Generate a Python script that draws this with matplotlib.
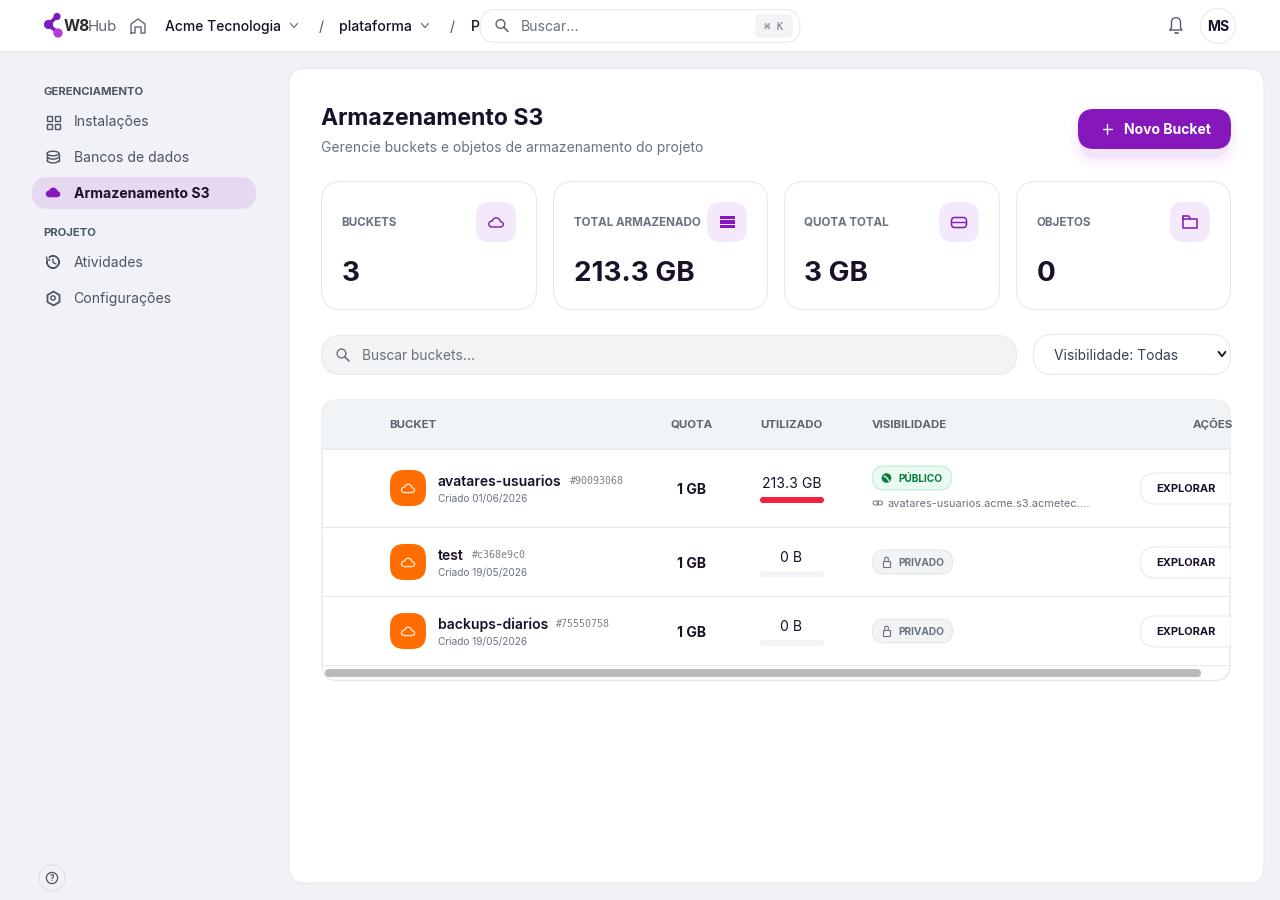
import matplotlib
matplotlib.use('Agg')
import matplotlib.pyplot as plt
from matplotlib.patches import FancyBboxPatch, Circle, PathPatch, Rectangle, Wedge, Ellipse
from matplotlib.path import Path

plt.rcParams['font.family'] = ['Inter', 'DejaVu Sans']

# page content
menu_top = ['Instalações', 'Bancos de dados', 'Armazenamento S3']
menu_bottom = ['Atividades', 'Configurações']
card_labels = ['BUCKETS', 'TOTAL ARMAZENADO', 'QUOTA TOTAL', 'OBJETOS']
card_values = ['3', '213.3 GB', '3 GB', '0']
bucket_names = ['avatares-usuarios', 'test', 'backups-diarios']
bucket_hashes = ['#90093068', '#c368e9c0', '#75550758']
bucket_dates = ['Criado 01/06/2026', 'Criado 19/05/2026', 'Criado 19/05/2026']
bucket_quota = ['1 GB', '1 GB', '1 GB']
bucket_used = ['213.3 GB', '0 B', '0 B']
bucket_used_frac = [1.0, 0.0, 0.0]
bucket_vis = ['PÚBLICO', 'PRIVADO', 'PRIVADO']

DARK = '#1a1028'
GREY = '#6b7280'
SLATE = '#4b5563'
LINE = '#e6e8ec'
PURPLE = '#8517bb'
ORANGE = '#ff6d00'

fig = plt.figure(figsize=(12.8, 9), dpi=100, facecolor='#f1f1f8')
ax = fig.add_axes([0, 0, 1, 1])
ax.set_xlim(0, 1280)
ax.set_ylim(900, 0)
ax.axis('off')


def box(x0, y0, x1, y1, r, fc='white', ec='none', lw=.75, z=2, alpha=None):
    p = FancyBboxPatch((x0 + r, y0 + r), x1 - x0 - 2 * r, y1 - y0 - 2 * r,
                       boxstyle='round,pad=%f,rounding_size=%f' % (r, r),
                       fc=fc, ec=ec, lw=lw, zorder=z, alpha=alpha)
    ax.add_patch(p)
    return p


def txt(x, y, s, size, color=DARK, weight='normal', ha='left', z=6, **kw):
    # y is the middle of the capitals, size in pixels
    return ax.text(x, y + 0.36 * size, s, fontsize=size * 0.72, color=color,
                   fontweight=weight, ha=ha, va='baseline', zorder=z, **kw)


def line(xs, ys, color=SLATE, lw=1.0, z=5):
    return ax.plot(xs, ys, color=color, lw=lw, zorder=z, solid_capstyle='round',
                   solid_joinstyle='round')[0]


def cloud(cx, cy, s, color, fill=False, lw=1.0):
    pts = [(-.55, .6), (.55, .6), (1.1, .6), (1.1, -.1), (.6, -.1),
           (.45, -.75), (-.3, -.8), (-.5, -.2), (-1.1, -.2), (-1.1, .6), (-.55, .6)]
    codes = [Path.MOVETO, Path.LINETO] + [Path.CURVE4] * 9
    verts = [(cx + a * s, cy + b * s) for a, b in pts]
    ax.add_patch(PathPatch(Path(verts, codes), fc=color if fill else 'none', ec=color,
                           lw=lw, zorder=5))


def magnifier(cx, cy, color=GREY, z=5):
    ax.add_patch(Circle((cx - 1.5, cy - 1.5), 4.4, fc='none', ec=color, lw=1.0, zorder=z))
    line([cx + 1.8, cx + 6], [cy + 1.8, cy + 6], color, 1.2, z)


def chevron(cx, cy, color=GREY, w=3.5, h=2, lw=.9):
    line([cx - w, cx, cx + w], [cy - h, cy + h, cy - h], color, lw)


# top bar
ax.add_patch(Rectangle((0, 0), 1280, 51, fc='white', ec='none', zorder=1))
line([0, 1280], [51, 51], '#e6e7ec', .75, 1)

# logo
line([57, 48.5, 58], [16.5, 24.5, 33], '#7c1bc0', 2.6)
for lx, ly, lr, lc in [(57, 16.5, 3.6, '#7c1bc0'), (48.5, 24.5, 4.6, '#7c1bc0'), (58, 33, 4.6, '#b43be0')]:
    ax.add_patch(Circle((lx, ly), lr, fc=lc, ec='none', zorder=5))
txt(63.5, 25.5, 'W8', 15.5, '#2b2b33', 'bold')
txt(87.5, 25.5, 'Hub', 15, '#5f646d')

# home icon
line([131, 131, 138, 145, 145, 141, 141, 135, 135, 131],
     [33, 24, 19, 24, 33, 33, 27, 27, 33, 33], GREY, 1.1)

# breadcrumb, search box sits on top of it
txt(165, 26, 'Acme Tecnologia', 13.9, DARK, 500)
chevron(294, 25.5)
txt(319, 26, '/', 14, SLATE)
txt(339, 26, 'plataforma', 14.1, DARK, 500)
chevron(425, 25.5)
txt(450, 26, '/', 14, SLATE)
txt(471, 26, 'P', 14, DARK, 500)
box(480, 9.5, 800, 42.5, 16, 'white', '#e6e8ec', .75, 7)
magnifier(502, 25.5, '#5f646d', 8)
txt(521, 26, 'Buscar...', 14, GREY, z=8)
box(756, 15, 792, 37, 4, '#f1f3f5', '#eceef0', .75, 8)
txt(774, 26, '⌘ K', 10.5, GREY, ha='center', z=9, family=['DejaVu Sans Mono', 'DejaVu Sans'])

# bell and avatar
line([1170, 1171.5, 1171.5, 1173, 1176, 1179, 1180.5, 1180.5, 1182, 1170],
     [30, 27.5, 21, 18.5, 17.5, 18.5, 21, 27.5, 30, 30], SLATE, .95)
line([1174.5, 1177.5], [33, 33], SLATE, 1.2)
ax.add_patch(Circle((1218, 26), 17.5, fc='white', ec='#e6e8ec', lw=.75, zorder=3))
txt(1218, 26, 'MS', 14, DARK, 'bold', ha='center')

# sidebar
txt(44, 91, 'GERENCIAMENTO', 11.3, SLATE, 'bold')
box(32, 177, 256, 209, 16, '#e6d8f0', z=2)
for i, name in enumerate(menu_top):
    y = 121 + 36 * i
    active = i == 2
    txt(74, y, name, 14, DARK if active else SLATE, 'bold' if active else 'normal')
for sx, sy in [(47, 116), (55, 116), (47, 123.5), (55, 123.5)]:
    ax.add_patch(Rectangle((sx, sy), 5, 5, fc='none', ec=SLATE, lw=1.0, zorder=5))
# database icon
ax.add_patch(Ellipse((53, 153.5), 12, 4.5, fc='none', ec=SLATE, lw=1.0, zorder=5))
line([47, 47], [153.5, 161], SLATE)
line([59, 59], [153.5, 161], SLATE)
line([47, 50, 53, 56, 59], [161, 162.6, 163, 162.6, 161], SLATE)
line([47, 50, 53, 56, 59], [157.2, 158.8, 159.2, 158.8, 157.2], SLATE)
cloud(53, 192.5, 6.8, PURPLE, fill=True)

txt(43.5, 232, 'PROJETO', 11.3, SLATE, 'bold')
for i, name in enumerate(menu_bottom):
    txt(74 - i * .8, 262 + 36 * i, name, 14, SLATE)
# clock with arrow
ax.add_patch(Wedge((53, 262), 6, -130, 190, width=0.01, fc='none', ec=SLATE, lw=1.0, zorder=5))
line([53, 53, 56], [259, 262.5, 264], SLATE)
line([46.5, 47, 50], [257, 260, 260], SLATE)
# gear
ax.add_patch(Circle((53, 298), 2.2, fc='none', ec=SLATE, lw=1.0, zorder=5))
ax.plot([53], [298], marker='h', ms=10, mfc='none', mec=SLATE, mew=1.3, zorder=5)
# help
ax.add_patch(Circle((52, 878), 13, fc='#f1f1f8', ec='#dfe1e6', lw=.75, zorder=2))
ax.add_patch(Circle((52, 878), 5.6, fc='none', ec=SLATE, lw=.9, zorder=5))
txt(52, 878, '?', 8, SLATE, 'bold', ha='center')

# main panel
box(289, 68.5, 1264, 883, 16, 'white', LINE, .75, 1)
txt(321, 117, 'Armazenamento S3', 23, DARK, 'bold')
txt(321, 147, 'Gerencie buckets e objetos de armazenamento do projeto', 13.85, GREY)

# button with soft shadow
for grow, a in [(12, .012), (9, .018), (6, .025), (3, .035), (1, .05)]:
    box(1078 - grow + 3, 109 + 8 - grow, 1231 + grow - 3, 149 + 8 + grow, 16 + grow, '#b04fe0', z=2, alpha=a)
box(1078, 109, 1231, 149, 16, PURPLE, z=3)
line([1102.5, 1112], [129, 129], 'white', 1.0)
line([1107.2, 1107.2], [124.2, 133.8], 'white', 1.0)
txt(1124, 129, 'Novo Bucket', 14, 'white', 'bold')

# stat cards
card_x = [(321, 537), (553, 768), (784, 1000), (1016, 1231)]
icon_x = [476, 707, 939, 1170]
for i, label in enumerate(card_labels):
    x0, x1 = card_x[i]
    box(x0 + .5, 181.5, x1 - .5, 309.5, 20, 'white', LINE, .75, 2)
    # the Q tail pushes the bitmap down a pixel
    txt(x0 + 20.5, 221.2 if label[0] == 'Q' else 222, label, 11.6, GREY, 'bold')
    txt(x0 + 20.5, 271, card_values[i], 27.8, DARK, 'bold')
    box(icon_x[i], 202, icon_x[i] + 40, 242, 14, '#f4e9fa', z=3)
cloud(496, 222.5, 7.5, PURPLE)
for dy in [-4.5, 0, 4.5]:
    ax.add_patch(Rectangle((719.5, 222 + dy - 1.8), 15.5, 3.6, fc=PURPLE, ec='none', zorder=5))
box(951.5, 217.5, 966.5, 227.5, 3, 'none', PURPLE, 1.1, 5)
line([952, 966], [222, 222], PURPLE, 1.0)
line([1183, 1183, 1189, 1191, 1197, 1197, 1183], [216, 228, 228, 228, 228, 219, 219], PURPLE, 1.1)
line([1183, 1188.5, 1190.5], [216, 216, 219], PURPLE, 1.1)

# filters
box(321.5, 335.5, 1016.5, 374.5, 19, '#f1f3f5', '#e8eaed', .75, 2)
magnifier(343, 355)
txt(362, 355, 'Buscar buckets...', 13.8, GREY)
box(1033.5, 334.5, 1230.5, 374.5, 19, 'white', LINE, .75, 2)
txt(1054, 355, 'Visibilidade: Todas', 13.8, '#374151')
chevron(1222, 354, DARK, 3.5, 2.2, 1.3)

# table
table = box(322, 400, 1230, 680.5, 16, 'white', '#e2e5e9', .9, 2)
head = Rectangle((322, 400), 908, 49, fc='#f1f4f6', ec='none', zorder=3)
ax.add_patch(head)
head.set_clip_path(table)
for ly in [449, 527, 596, 665]:
    line([322, 1230], [ly, ly], LINE, .75, 3)
header_cols = [('BUCKET', 389.5, 'left'), ('QUOTA', 691.5, 'center'), ('UTILIZADO', 791.5, 'center'),
               ('VISIBILIDADE', 871.5, 'left'), ('AÇÕES', 1193, 'left')]
for label, hx, ha in header_cols:
    t = txt(hx, 423.2 if label[0] == 'Q' else 424, label, 11.5, '#5b6470', 'bold', ha=ha)
    t.set_clip_path(table)

row_y = [488, 562, 631]
for i, name in enumerate(bucket_names):
    y = row_y[i]
    box(390, y - 18, 426, y + 18, 14, ORANGE, z=4)
    cloud(408, y + .5, 6.8, '#ffe3c9', lw=1.0)
    ny = y - 7
    t = txt(438, ny, name, 14, DARK, 600)
    fig.canvas.draw()
    bb = t.get_window_extent().transformed(ax.transData.inverted())
    txt(bb.x1 + 8, ny - 1, bucket_hashes[i], 10, '#7b8088', family='DejaVu Sans Mono')
    txt(438, y + 10, bucket_dates[i], 10.1, GREY)
    txt(691.5, y + 1, bucket_quota[i], 14, DARK, 'bold', ha='center')
    txt(791.5, y - 5, bucket_used[i], 14, DARK, ha='center')
    # usage bar
    box(760, y + 9, 824, y + 15, 3, '#f1f3f5', z=4)
    if bucket_used_frac[i] > 0:
        box(760, y + 9, 760 + 64 * bucket_used_frac[i], y + 15, 3, '#f5213f', z=5)
    # visibility badge
    public = bucket_vis[i] == 'PÚBLICO'
    by = y - 10 if public else y
    fc, ec, tc = ('#e9fbf0', '#b9eecf', '#0a7a3e') if public else ('#f1f3f5', '#e3e5e9', '#6b7280')
    box(872.5, by - 12, 951.5 if public else 952.5, by + 12, 12, fc, ec, .75, 4)
    txt(898.5, by, bucket_vis[i], 10.1, tc, 'bold')
    if public:
        ax.add_patch(Circle((886.5, by), 4.8, fc=tc, ec='none', zorder=5))
        line([884, 887, 889], [by - 2, by, by + 3], '#e9fbf0', 1.0, 6)
    else:
        ax.add_patch(Rectangle((883, by - 1.5), 7, 6, fc='none', ec=tc, lw=.8, zorder=5))
        line([884.7, 884.7, 886.5, 888.3, 888.3], [by - 1.5, by - 4, by - 5, by - 4, by - 1.5], tc, .8)
    # action button is cut off by the table edge
    bt = box(1140.5, y - 15, 1245, y + 16, 15, 'white', LINE, .75, 4)
    bt.set_clip_path(table)
    txt(1156.5, y, 'EXPLORAR', 11, DARK, 'bold')

# link under public badge
box(873, 501, 878.5, 505, 2, 'none', '#7b8088', .75, 5)
box(877, 501, 882.5, 505, 2, 'none', '#7b8088', .75, 5)
txt(888, 503, 'avatares-usuarios.acme.s3.acmetec....', 11, GREY)

# scrollbar
box(325, 669, 1201, 677, 4, '#b9b9b9', z=4)

fig.savefig('out.png', dpi=100, facecolor=fig.get_facecolor())
